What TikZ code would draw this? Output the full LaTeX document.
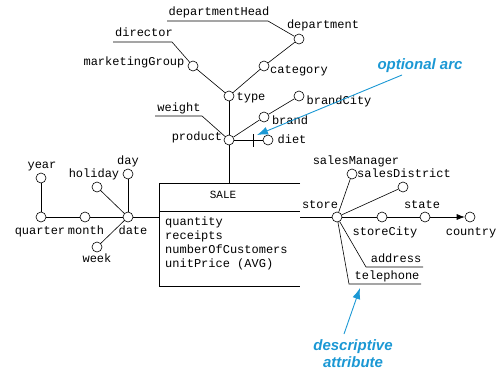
\documentclass[tikz,border=0pt]{standalone}
\usepackage{fontspec}
\newfontfamily\dfmmono{Liberation Mono}
\newfontfamily\dfmsans{Liberation Sans}
\usetikzlibrary{arrows.meta}
\definecolor{callout}{RGB}{27,152,212}
\begin{document}
\begin{tikzpicture}[x=1pt,y=-1pt,
  attr/.style={circle,draw=black,fill=white,line width=0.6pt,minimum size=10pt,inner sep=0pt},
  lbl/.style={font=\dfmmono\fontsize{12}{14}\selectfont,inner sep=0pt,text height=7pt,text depth=2pt},
  edge/.style={draw=black,line width=0.6pt},
  note/.style={font=\dfmsans\bfseries\itshape\fontsize{15}{17}\selectfont,text=callout,inner sep=0pt,align=center},
  notearrow/.style={draw=callout,line width=0.9pt,-{Latex[length=11pt,width=8pt]}}]
\useasboundingbox (0,0) rectangle (497,370);

% fact box
\coordinate (boxTL) at (159,183);
\coordinate (boxTR) at (300,183);
\coordinate (boxBL) at (159,286);
\coordinate (boxBR) at (300,286);
\coordinate (sepL) at (159,211);
\coordinate (sepR) at (300,211);
\draw[edge] (boxTR) -- (boxTL) -- (boxBL) -- (boxBR);
\draw[edge] (sepL) -- (sepR);
\node[lbl,font=\dfmmono\fontsize{11}{13}\selectfont] (sale) at (223,196) {SALE};
\node[lbl,anchor=west] (m1) at (165,223) {quantity};
\node[lbl,anchor=west] (m2) at (165,237) {receipts};
\node[lbl,anchor=west] (m3) at (165,251) {numberOfCustomers};
\node[lbl,anchor=west] (m4) at (165,265) {unitPrice (AVG)};

% product hierarchy
\node[attr] (product) at (229,140) {};
\node[attr] (type) at (229,96) {};
\node[attr] (mktg) at (193,66) {};
\node[attr] (category) at (264,66) {};
\node[attr] (department) at (299,39) {};
\node[attr] (brand) at (264,117) {};
\node[attr] (brandcity) at (299,96) {};
\node[attr] (diet) at (268,140) {};

\node[lbl] (productL) at (197,138) {product};
\node[lbl] (typeL) at (251,98) {type};
\node[lbl] (mktgL) at (134,63) {marketingGroup};
\node[lbl] (directorL) at (144,34) {director};
\node[lbl] (categoryL) at (299,71) {category};
\node[lbl] (departmentL) at (323,26) {department};
\node[lbl] (depheadL) at (219,13) {departmentHead};
\node[lbl] (brandL) at (290,122) {brand};
\node[lbl] (brandcityL) at (339,102) {brandCity};
\node[lbl] (dietL) at (292,141) {diet};
\node[lbl] (weightL) at (179,109) {weight};

\draw[edge] (product) -- (product |- boxTL);
\draw[edge] (product) -- (type);
\draw[edge] (type) -- (mktg);
\draw[edge] (type) -- (category);
\draw[edge] (category) -- (department);
\draw[edge] (product) -- (brand);
\draw[edge] (brand) -- (brandcity);
\draw[edge] (product) -- (diet);
\coordinate (tickT) at (253,134);
\coordinate (tickB) at (253,147);
\draw[edge] (tickT) -- (tickB);
\coordinate (dirL) at (113,42);
\coordinate (dirR) at (172,42);
\draw[edge] (dirL) -- (dirR) -- (mktg);
\coordinate (dhL) at (167,21);
\coordinate (dhR) at (268,21);
\draw[edge] (dhL) -- (dhR) -- (department);
\coordinate (wL) at (155,116);
\coordinate (wR) at (202,116);
\draw[edge] (wL) -- (wR) -- (product);

% date hierarchy
\node[attr] (date) at (128,217) {};
\node[attr] (month) at (85,217) {};
\node[attr] (quarter) at (41,217) {};
\node[attr] (year) at (41,178) {};
\node[attr] (holiday) at (97,187) {};
\node[attr] (day) at (128,174) {};
\node[attr] (week) at (97,247) {};

\node[lbl] (dateL) at (133,232) {date};
\node[lbl] (monthL) at (86,232) {month};
\node[lbl] (quarterL) at (40,232) {quarter};
\node[lbl] (yearL) at (42,166) {year};
\node[lbl] (holidayL) at (94,175) {holiday};
\node[lbl] (dayL) at (128,162) {day};
\node[lbl] (weekL) at (97,260) {week};

\draw[edge] (date) -- (date -| boxTL);
\draw[edge] (date) -- (month);
\draw[edge] (month) -- (quarter);
\draw[edge] (quarter) -- (year);
\draw[edge] (date) -- (holiday);
\draw[edge] (date) -- (day);
\draw[edge] (date) -- (week);

% store hierarchy
\node[attr] (store) at (337,217) {};
\node[attr] (salesmgr) at (352,174) {};
\node[attr] (salesdist) at (403,187) {};
\node[attr] (storecity) at (382,217) {};
\node[attr] (state) at (425,217) {};
\node[attr] (country) at (470,217) {};

\node[lbl] (storeL) at (320,206) {store};
\node[lbl] (salesmgrL) at (356,162) {salesManager};
\node[lbl] (salesdistL) at (404,175) {salesDistrict};
\node[lbl] (storecityL) at (385,233) {storeCity};
\node[lbl] (stateL) at (422,206) {state};
\node[lbl] (countryL) at (471,233) {country};
\node[lbl] (addressL) at (396,260) {address};
\node[lbl] (telephoneL) at (387,277) {telephone};

\draw[edge] (store) -- (store -| boxTR);
\draw[edge] (store) -- (salesmgr);
\draw[edge] (store) -- (salesdist);
\draw[edge] (store) -- (storecity);
\draw[edge] (storecity) -- (state);
\draw[edge,-{Latex[length=8pt,width=6pt]}] (state) -- (country);
\coordinate (adL) at (366,267);
\coordinate (adR) at (423,267);
\draw[edge] (store) -- (adL) -- (adR);
\coordinate (telL) at (349,284);
\coordinate (telR) at (421,284);
\draw[edge] (store) -- (telL) -- (telR);

% callouts
\node[note] (optnote) at (420,66) {optional arc};
\coordinate (optstart) at (402,75);
\coordinate (opttip) at (257,135);
\draw[notearrow] (optstart) -- (opttip);
\node[note] (descnote) at (353,354) {descriptive\\attribute};
\coordinate (descstart) at (344,334);
\coordinate (desctip) at (360,288);
\draw[notearrow] (descstart) -- (desctip);
\end{tikzpicture}
\end{document}
